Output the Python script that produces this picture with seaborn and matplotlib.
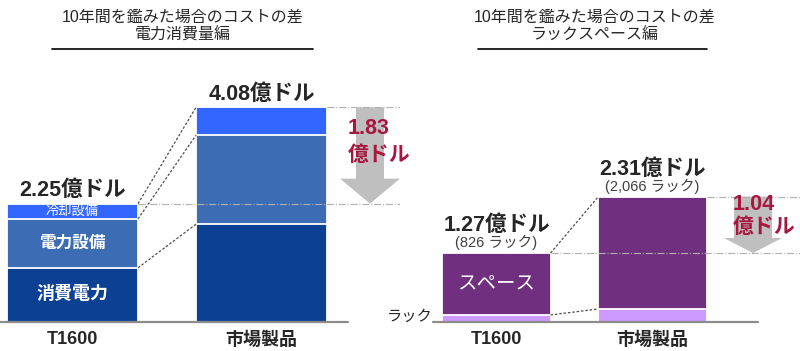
import matplotlib
matplotlib.use("Agg")
import matplotlib.pyplot as plt
import seaborn as sns
import numpy as np
from matplotlib.lines import Line2D

sns.set_style("white")
# Latin glyphs from Liberation Sans (Arial-like), Japanese from Noto CJK
plt.rcParams['font.family'] = ['Liberation Sans', 'Noto Sans CJK JP', 'DejaVu Sans']

# --- data (億ドル) ---
categories = ["T1600", "市場製品"]

# power consumption panel
power_use = [1.03, 1.86]        # 消費電力
power_equip = [0.93, 1.69]      # 電力設備
cooling = [0.29, 0.53]          # 冷却設備
power_totals = [2.25, 4.08]
power_diff = "1.83"

# rack space panel
rack_part = [0.13, 0.24]        # ラック
space_part = [1.14, 2.07]       # スペース
rack_totals = [1.27, 2.31]
rack_counts = ["826", "2,066"]
rack_diff = "1.04"

c_cool = "#3366FF"
c_equip = "#3C6DB4"
c_use = "#0B4093"
c_space = "#70307F"
c_rack = "#CC99FF"
c_arrow = "#BFBFBF"
c_red = "#A8173F"

W, H = 800, 351
fig = plt.figure(figsize=(W / 100, H / 100), dpi=100)

base_px = 322
barw = 0.693

# axes placed so that bars land where they are in the reference
ax1 = fig.add_axes([0, (H - base_px) / H, 0.5, base_px / H])
ax2 = fig.add_axes([0.5, (H - base_px) / H, 0.5, base_px / H])
scale1, scale2 = 52.6, 54.3


def stacked(ax, layers, colors):
    # layers from bottom to top; draw cumulative sums largest first
    cums = np.cumsum(np.array(layers), axis=0)
    for level, col in zip(cums[::-1], colors[::-1]):
        sns.barplot(x=categories, y=level, color=col, width=barw, ax=ax,
                    edgecolor="white", linewidth=1.3, errorbar=None,
                    saturation=1)
    return cums


# ---------- left panel ----------
cums1 = stacked(ax1, [power_use, power_equip, cooling], [c_use, c_equip, c_cool])
ax1.set_xlim(-72.5 / 189, (400 - 72.5) / 189)
ax1.set_ylim(0, base_px / scale1)
ax1.axis("off")

ax1.plot([-72.5 / 189, (348 - 72.5) / 189], [0, 0], color="#8C8C8C", lw=1.6,
         clip_on=False, zorder=5)

# connectors between bars
for lv in range(3):
    ax1.plot([barw / 2, 1 - barw / 2], [cums1[lv][0], cums1[lv][1]],
             ls=(0, (2, 1.5)), color="#4D4D4D", lw=0.9, zorder=4)
ax1.plot([1 + barw / 2, ax1.get_xlim()[1]], [power_totals[1]] * 2,
         ls="-.", color="#B0B0B0", lw=0.8, zorder=4)
ax1.plot([barw / 2, ax1.get_xlim()[1]], [power_totals[0]] * 2,
         ls="-.", color="#B0B0B0", lw=0.8, zorder=4)

ax1.arrow((370 - 72.5) / 189, power_totals[1], 0, power_totals[0] - power_totals[1],
          width=0.148, head_width=0.317, head_length=0.475,
          length_includes_head=True, color=c_arrow, lw=0, zorder=3)
ax1.text((348 - 72.5) / 189, (322 - 128) / scale1, power_diff, color=c_red,
         fontsize=15.5, fontweight="bold", ha="left", va="center", zorder=6)
ax1.text((348 - 72.5) / 189, (322 - 155) / scale1, "億ドル", color=c_red,
         fontsize=15, fontweight="bold", ha="left", va="center", zorder=6,
         clip_on=False)

for i, tot in enumerate(power_totals):
    ax1.text(i, tot + 0.25, f"{tot:.2f}億ドル", fontsize=15.5, fontweight="bold",
             ha="center", va="center")
    ax1.text(i, -18 / scale1, categories[i], fontsize=13, fontweight="bold",
             ha="center", va="center")

ax1.text(0, cums1[1][0] + cooling[0] / 2, "冷却設備", color="white", fontsize=9.5,
         ha="center", va="center")
ax1.text(0, cums1[0][0] + power_equip[0] / 2, "電力設備", color="white", fontsize=12,
         fontweight="bold", ha="center", va="center")
ax1.text(0, power_use[0] / 2, "消費電力", color="white", fontsize=13,
         fontweight="bold", ha="center", va="center")

# ---------- right panel ----------
cums2 = stacked(ax2, [rack_part, space_part], [c_rack, c_space])
ax2.set_xlim(-96.5 / 156, 303.5 / 156)
ax2.set_ylim(0, base_px / scale2)
ax2.axis("off")

ax2.plot([(433 - 496.5) / 156, (758 - 496.5) / 156], [0, 0], color="#8C8C8C",
         lw=1.6, clip_on=False, zorder=5)

for lv in range(2):
    ax2.plot([barw / 2, 1 - barw / 2], [cums2[lv][0], cums2[lv][1]],
             ls=(0, (2, 1.5)), color="#4D4D4D", lw=0.9, zorder=4)
ax2.plot([1 + barw / 2, ax2.get_xlim()[1]], [rack_totals[1]] * 2,
         ls="-.", color="#B0B0B0", lw=0.8, zorder=4)
ax2.plot([barw / 2, ax2.get_xlim()[1]], [rack_totals[0]] * 2,
         ls="-.", color="#B0B0B0", lw=0.8, zorder=4)

ax2.arrow((753 - 496.5) / 156, rack_totals[1], 0, rack_totals[0] - rack_totals[1],
          width=0.244, head_width=0.372, head_length=0.276,
          length_includes_head=True, color=c_arrow, lw=0, zorder=3)
ax2.text((733 - 496.5) / 156, (322 - 205) / scale2, rack_diff, color=c_red,
         fontsize=15.5, fontweight="bold", ha="left", va="center", zorder=6)
ax2.text((733 - 496.5) / 156, (322 - 227) / scale2, "億ドル", color=c_red,
         fontsize=15, fontweight="bold", ha="left", va="center", zorder=6)

for i, tot in enumerate(rack_totals):
    ax2.text(i, tot + 0.5, f"{tot:.2f}億ドル", fontsize=15.5, fontweight="bold",
             ha="center", va="center")
    ax2.text(i, tot + 0.19, f"({rack_counts[i]} ラック)", fontsize=10.5,
             color="#404040", ha="center", va="center")
    ax2.text(i, -18 / scale2, categories[i], fontsize=13, fontweight="bold",
             ha="center", va="center")

ax2.text(0, rack_part[0] + space_part[0] / 2, "スペース", color="white",
         fontsize=14, ha="center", va="center")
ax2.text((433 - 496.5) / 156, (322 - 317) / scale2, "ラック", fontsize=11,
         ha="right", va="center", clip_on=False)

# ---------- titles ----------
for cx, x0, x1, sub in [(183, 52, 313, "電力消費量編"), (595, 478, 707, "ラックスペース編")]:
    fig.text(cx / W, 1 - 17 / H, "10年間を鑑みた場合のコストの差", fontsize=11.5,
             ha="center", va="center")
    fig.text(cx / W, 1 - 35 / H, sub, fontsize=11.5, ha="center", va="center")
    fig.add_artist(Line2D([x0 / W, x1 / W], [1 - 49 / H] * 2, color="black", lw=1.2))

fig.savefig("out.png", dpi=100)
